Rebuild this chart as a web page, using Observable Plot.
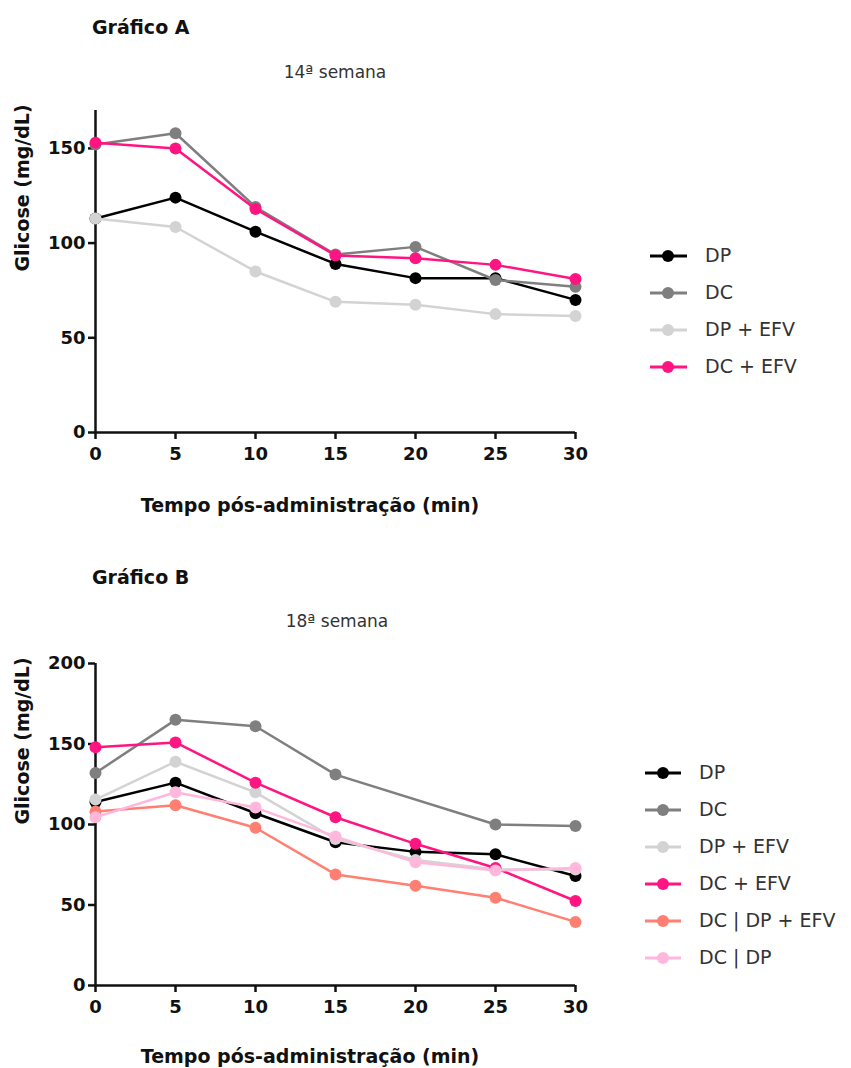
<!DOCTYPE html>
<html><head><meta charset="utf-8">
<script src="https://cdn.jsdelivr.net/npm/d3@7"></script>
<script src="https://cdn.jsdelivr.net/npm/@observablehq/plot@0.6"></script>
<style>
body{margin:0;background:#fff;}
#root{position:relative;width:851px;height:1068px;font-family:"DejaVu Sans",sans-serif;overflow:hidden;}
.abs{position:absolute;white-space:nowrap;line-height:1;}
.title{font-weight:bold;font-size:19px;color:#111;}
.sub{font-size:17px;color:#333;transform:translateX(-50%);}
.xlab{font-weight:bold;font-size:19px;color:#111;transform:translateX(-50%);}
.legtext{font-size:19px;color:#333;}
svg.chart{position:absolute;left:0;}
</style></head>
<body><div id="root"></div>
<script>
const minutes = [0, 5, 10, 15, 20, 25, 30];

// Gráfico A — 14ª semana
const seriesA = ["DP", "DC", "DP + EFV", "DC + EFV"];
const colorsA = ["#000000", "#7f7f7f", "#d3d3d3", "#ff1582"];
const A_DP     = [113, 124, 106, 89, 81.5, 81.5, 70];
const A_DC     = [152, 158, 119, 94, 98, 80.5, 77];
const A_DP_EFV = [113, 108.5, 85, 69, 67.5, 62.5, 61.5];
const A_DC_EFV = [153, 150, 118, 93.5, 92, 88.5, 81];
const yTicksA = [0, 50, 100, 150];

// Gráfico B — 18ª semana
const seriesB = ["DP", "DC", "DP + EFV", "DC + EFV", "DC | DP + EFV", "DC | DP"];
const colorsB = ["#000000", "#7f7f7f", "#d3d3d3", "#ff1582", "#ff7f72", "#ffb8dc"];
const B_DP        = [114, 126, 107, 89, 83, 81.5, 68];
const B_DC        = [132, 165, 161, 131, null, 100, 99];
const B_DP_EFV    = [115.5, 139, 120, 91, 78, 72, 72];
const B_DC_EFV    = [148, 151, 126, 104.5, 88, 73, 52.5];
const B_DCDP_EFV  = [108, 112, 98, 69, 62, 54.5, 39.5];
const B_DCDP      = [104.5, 120, 110.5, 92.5, 76.5, 71.5, 73];
const yTicksB = [0, 50, 100, 150, 200];

const xTitle = "Tempo pós-administração (min)";
const yTitle = "Glicose (mg/dL)";

function buildRows(series, values) {
  const rows = [];
  series.forEach((s, i) => values[i].forEach((v, j) => {
    if (v != null) rows.push({series: s, t: minutes[j], g: v});
  }));
  return rows;
}

function makeChart({series, values, colors, yMax, yTicks, height, marginTop, marginBottom}) {
  const rows = buildRows(series, values);
  const marks = [
    Plot.ruleY([0], {x1: 0, x2: 30, stroke: "#111", strokeWidth: 2.5}),
    Plot.ruleX([0], {y1: 0, y2: yMax, stroke: "#111", strokeWidth: 2.5}),
    Plot.axisX({ticks: minutes, tickSize: 7, tickPadding: 8, strokeWidth: 2.5, label: null, tickFormat: d => String(d)}),
    Plot.axisY({ticks: yTicks, tickSize: 7, tickPadding: 3, strokeWidth: 2.5, label: null}),
    Plot.text([yTitle], {frameAnchor: "left", dx: -73, rotate: -90, fontSize: 19, fill: "#111"})
  ];
  series.forEach(s => {
    const d = rows.filter(r => r.series === s);
    marks.push(Plot.line(d, {x: "t", y: "g", stroke: "series", strokeWidth: 2.5}));
    marks.push(Plot.dot(d, {x: "t", y: "g", fill: "series", r: 6}));
  });
  const svg = Plot.plot({
    width: 851, height, marginLeft: 95, marginRight: 276, marginTop, marginBottom,
    style: {fontFamily: "DejaVu Sans", fontSize: "18px", fontWeight: "bold", color: "#111", background: "transparent", overflow: "visible"},
    x: {domain: [0, 30]},
    y: {domain: [0, yMax]},
    color: {domain: series, range: colors},
    marks
  });
  svg.classList.add("chart");
  return svg;
}

const root = document.getElementById("root");

function addText(cls, text, left, top) {
  const d = document.createElement("div");
  d.className = "abs " + cls;
  d.textContent = text;
  d.style.left = left + "px";
  d.style.top = top + "px";
  root.appendChild(d);
}

function addLegend(series, colors, y0, gap, lx0, lx1, dotX, textX) {
  series.forEach((s, i) => {
    const cy = y0 + i * gap;
    const ns = "http://www.w3.org/2000/svg";
    const sv = document.createElementNS(ns, "svg");
    sv.setAttribute("width", 60); sv.setAttribute("height", 20);
    sv.style.position = "absolute";
    sv.style.left = (lx0 - 5) + "px";
    sv.style.top = (cy - 10) + "px";
    const ln = document.createElementNS(ns, "line");
    ln.setAttribute("x1", 5); ln.setAttribute("x2", 5 + lx1 - lx0);
    ln.setAttribute("y1", 10); ln.setAttribute("y2", 10);
    ln.setAttribute("stroke", colors[i]); ln.setAttribute("stroke-width", 3);
    const c = document.createElementNS(ns, "circle");
    c.setAttribute("cx", 5 + dotX - lx0); c.setAttribute("cy", 10); c.setAttribute("r", 6);
    c.setAttribute("fill", colors[i]);
    sv.appendChild(ln); sv.appendChild(c);
    root.appendChild(sv);
    addText("legtext", s, textX, cy - 10);
  });
}

// Chart A
const svgA = makeChart({series: seriesA, values: [A_DP, A_DC, A_DP_EFV, A_DC_EFV], colors: colorsA,
  yMax: 170, yTicks: yTicksA, height: 540, marginTop: 110, marginBottom: 108});
svgA.style.top = "0px";
root.appendChild(svgA);
addText("title", "Gráfico A", 92, 18);
addText("sub", "14ª semana", 335, 64);
addText("xlab", xTitle, 310, 496);
addLegend(seriesA, colorsA, 256, 37, 650, 687, 668, 705);

// Chart B
const svgB = makeChart({series: seriesB, values: [B_DP, B_DC, B_DP_EFV, B_DC_EFV, B_DCDP_EFV, B_DCDP], colors: colorsB,
  yMax: 200, yTicks: yTicksB, height: 528, marginTop: 123, marginBottom: 83});
svgB.style.top = "540px";
root.appendChild(svgB);
addText("title", "Gráfico B", 92, 568);
addText("sub", "18ª semana", 337, 613);
addText("xlab", xTitle, 310, 1047);
addLegend(seriesB, colorsB, 773, 37, 645, 681, 663, 699);
</script>
</body></html>
